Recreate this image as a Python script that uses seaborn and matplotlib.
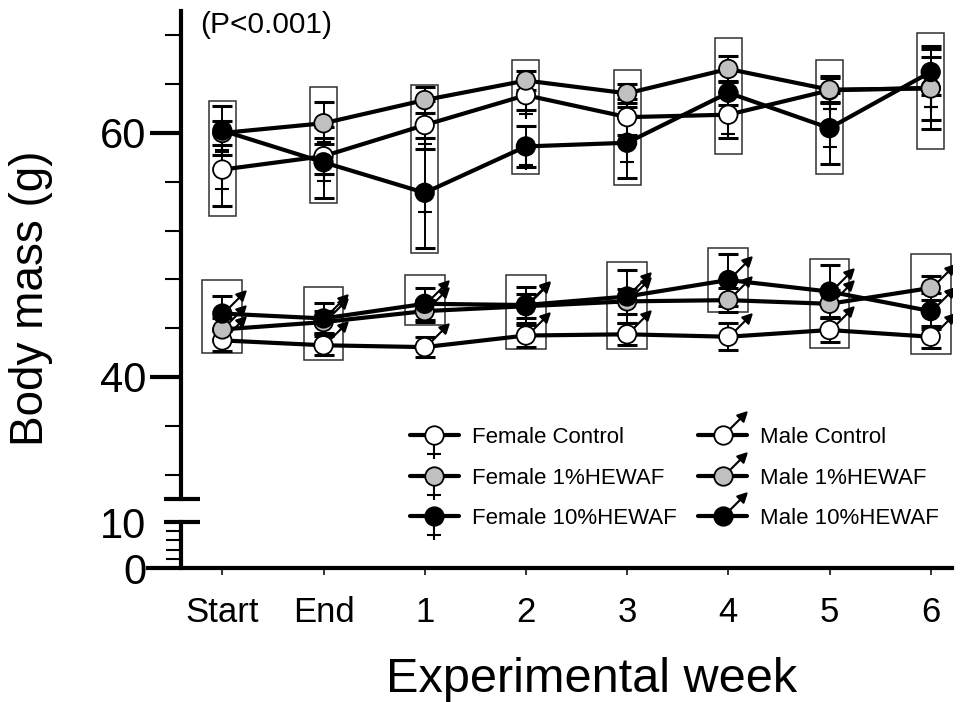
import numpy as np
import pandas as pd
import matplotlib
matplotlib.use("Agg")
import matplotlib.pyplot as plt
import seaborn as sns
from matplotlib.path import Path
from matplotlib.patches import Rectangle
from matplotlib.lines import Line2D
from matplotlib.legend_handler import HandlerTuple

# ---------------- data ----------------
weeks = ["Start", "End", "1", "2", "3", "4", "5", "6"]

female_groups = ["Female Control", "Female 1%HEWAF", "Female 10%HEWAF"]
male_groups = ["Male Control", "Male 1%HEWAF", "Male 10%HEWAF"]
treat_fill = ["white", "#c0c0c0", "black"]

female_control = [57.0, 58.1, 60.65, 63.1, 61.3, 61.5, 63.5, 63.7]
female_1pct = [60.0, 60.8, 62.7, 64.3, 63.25, 65.25, 63.55, 63.65]
female_10pct = [60.2, 57.6, 55.1, 58.9, 59.2, 63.3, 60.4, 65.0]
female_control_se = [3.0, 1.5, 2.0, 1.2, 1.5, 1.9, 1.0, 3.4]
female_1pct_se = [1.0, 1.7, 1.1, 0.8, 0.8, 1.1, 1.1, 2.6]
female_10pct_se = [2.0, 2.9, 4.5, 1.7, 2.9, 1.0, 2.9, 1.9]

male_control = [43.0, 42.6, 42.45, 43.4, 43.5, 43.3, 43.85, 43.3]
male_1pct = [43.9, 44.5, 45.4, 45.8, 46.2, 46.3, 46.0, 47.3]
male_10pct = [45.2, 44.8, 46.0, 45.9, 46.6, 47.95, 47.0, 45.4]
male_control_se = [0.9, 0.8, 0.8, 0.9, 0.9, 1.1, 1.0, 0.9]
male_1pct_se = [0.9, 0.9, 0.9, 1.0, 1.0, 1.0, 1.1, 1.0]
male_10pct_se = [1.4, 1.3, 1.3, 1.5, 2.2, 2.1, 2.2, 1.5]

# ranges outlined at each week
female_box_low = [53.2, 54.3, 50.2, 56.6, 55.7, 58.3, 56.6, 58.7]
female_box_high = [62.65, 63.75, 63.9, 66.0, 65.2, 67.8, 66.0, 68.2]
male_box_low = [42.0, 41.4, 44.3, 42.3, 42.3, 45.3, 42.4, 41.9]
male_box_high = [47.95, 47.4, 48.4, 48.4, 49.45, 50.55, 49.7, 50.1]


def long_table(groups, means, errs):
    frames = []
    for g, m, e in zip(groups, means, errs):
        frames.append(pd.DataFrame({"group": g, "pos": np.arange(len(weeks)),
                                    "week": weeks, "mass": m, "se": e}))
    return pd.concat(frames, ignore_index=True)


females = long_table(female_groups, [female_control, female_1pct, female_10pct],
                     [female_control_se, female_1pct_se, female_10pct_se])
males = long_table(male_groups, [male_control, male_1pct, male_10pct],
                   [male_control_se, male_1pct_se, male_10pct_se])

# ---------------- sex symbols as marker paths ----------------
def venus_path():
    verts = [(0, -1.0), (0, -2.6), (-0.75, -2.1), (0.75, -2.1)]
    codes = [Path.MOVETO, Path.LINETO, Path.MOVETO, Path.LINETO]
    return Path(verts, codes)


def mars_path():
    tip = np.array([2.5, 2.5])
    d = np.array([1, 1]) / np.sqrt(2)
    p = np.array([-1, 1]) / np.sqrt(2)
    base = tip - 0.95 * d
    c1, c2 = base + 0.48 * p, base - 0.48 * p
    verts = [(0.7, 0.7), tuple(base), tuple(tip), tuple(c1), tuple(c2), tuple(tip)]
    codes = [Path.MOVETO, Path.LINETO, Path.MOVETO, Path.LINETO, Path.LINETO,
             Path.CLOSEPOLY]
    return Path(verts, codes)


CIRCLE_MS = 13.3
VENUS = venus_path()
MARS = mars_path()
VENUS_MS = 2 * np.abs(VENUS.vertices).max() * CIRCLE_MS / 2
MARS_MS = 2 * np.abs(MARS.vertices).max() * CIRCLE_MS / 2

# ---------------- figure ----------------
sns.set_style("ticks")
plt.rcParams["font.family"] = ["Liberation Sans", "DejaVu Sans"]
for key in ("text.color", "axes.labelcolor", "xtick.color", "ytick.color",
            "axes.edgecolor"):
    plt.rcParams[key] = "black"

W, H = 964, 702
fig = plt.figure(figsize=(W / 100, H / 100), dpi=100)
x0_px, spacing_px = 222.3, 101.2
left_px, right_px = 148, 952
XL = ((left_px - x0_px) / spacing_px, (right_px - x0_px) / spacing_px)
SPINE_X = (181 - x0_px) / spacing_px

ax_top = fig.add_axes([left_px / W, 1 - 499 / H, (right_px - left_px) / W, 488 / H])
ax_bot = fig.add_axes([left_px / W, 1 - 568 / H, (right_px - left_px) / W, 46 / H])

fill_f = dict(zip(female_groups, treat_fill))
fill_m = dict(zip(male_groups, treat_fill))


def draw_group(ax, df, groups, fills, box_lo, box_hi, box_w, sign, sign_ms, sign_fc):
    for i in range(len(weeks)):
        ax.add_patch(Rectangle((i - box_w / 2, box_lo[i]), box_w, box_hi[i] - box_lo[i],
                               fill=False, edgecolor="#303030", lw=1.1, zorder=1))
    for g in groups:
        sub = df[df.group == g]
        ax.errorbar(sub.pos, sub.mass, yerr=sub.se, fmt="none", ecolor="black",
                    elinewidth=1.4, capsize=7, capthick=2.2, zorder=2)
    sns.lineplot(data=df, x="pos", y="mass", hue="group", hue_order=groups,
                 palette={g: "black" for g in groups}, errorbar=None,
                 linewidth=3.0, legend=False, ax=ax, zorder=3)
    for g in groups:
        sub = df[df.group == g]
        ax.plot(sub.pos, sub.mass, ls="none", marker=sign, ms=sign_ms,
                mec="black", mfc=sign_fc, mew=1.5, zorder=4)
    sns.scatterplot(data=df, x="pos", y="mass", hue="group", hue_order=groups,
                    palette=fills, edgecolor="black", linewidth=1.3,
                    s=CIRCLE_MS ** 2, legend=False, ax=ax, zorder=5)


draw_group(ax_top, females, female_groups, fill_f, female_box_low, female_box_high,
           0.267, VENUS, VENUS_MS, "none")
draw_group(ax_top, males, male_groups, fill_m, male_box_low, male_box_high,
           0.395, MARS, MARS_MS, "black")

# ---------------- axes styling ----------------
for ax in (ax_top, ax_bot):
    ax.set_xlim(*XL)
    ax.set_facecolor("none")
    ax.spines["left"].set_position(("data", SPINE_X))
    ax.spines["left"].set_linewidth(3.0)
    ax.spines["top"].set_visible(False)
    ax.spines["right"].set_visible(False)
    ax.set_xlabel("")
    ax.set_ylabel("")

ax_top.set_ylim(30, 70)
ax_top.spines["bottom"].set_visible(False)
ax_top.tick_params(axis="x", which="both", bottom=False, labelbottom=False)
ax_top.set_yticks([40, 60])
ax_top.set_yticks([32, 36, 44, 48, 52, 56, 64, 68], minor=True)
ax_top.tick_params(axis="y", which="major", length=22, width=3.0, pad=3, labelsize=30)
ax_top.tick_params(axis="y", which="minor", length=11.5, width=1.5)

ax_bot.set_ylim(0, 10)
ax_bot.spines["bottom"].set_linewidth(3.0)
ax_bot.set_yticks([0, 10])
ax_bot.set_yticks([2, 4, 6, 8], minor=True)
ax_bot.tick_params(axis="y", which="major", length=0, pad=25, labelsize=30)
ax_bot.tick_params(axis="y", which="minor", length=11, width=1.5)
ax_bot.set_xticks(np.arange(len(weeks)))
ax_bot.set_xticklabels(weeks)
ax_bot.tick_params(axis="x", which="major", length=5, width=1.1, pad=15, labelsize=25)

# break caps on the y axis
cap_x = [SPINE_X - 17 / spacing_px, SPINE_X + 19 / spacing_px]
ax_top.plot(cap_x, [30, 30], color="black", lw=3.0, clip_on=False, solid_capstyle="butt")
ax_bot.plot(cap_x, [10, 10], color="black", lw=3.0, clip_on=False, solid_capstyle="butt")

ax_top.set_ylabel("Body mass (g)", fontsize=33, va="center")
ax_top.yaxis.set_label_coords(31 / W, 1 - 298 / H, transform=fig.transFigure)
ax_bot.set_xlabel("Experimental week", fontsize=35, va="baseline")
ax_bot.xaxis.set_label_coords(592 / W, 1 - 692 / H, transform=fig.transFigure)

fig.text(200 / W, 1 - 11 / H, "(P<0.001)", fontsize=21.5, ha="left", va="top")

# ---------------- legend ----------------
handles, labels = [], []
for groups, sign, sign_ms, sign_fc in ((female_groups, VENUS, VENUS_MS, "none"),
                                       (male_groups, MARS, MARS_MS, "black")):
    for g, fc in zip(groups, treat_fill):
        line = Line2D([], [], color="black", lw=3.0, marker=sign, ms=sign_ms,
                      mec="black", mfc=sign_fc, mew=1.5)
        dot = Line2D([], [], ls="none", marker="o", ms=CIRCLE_MS, mfc=fc,
                     mec="black", mew=1.3)
        handles.append((line, dot))
        labels.append(g)

fig.legend(handles, labels, ncol=2, loc="upper left",
           bbox_to_anchor=(410 / W, 1 - 427 / H), frameon=False, fontsize=16,
           handlelength=2.2, handletextpad=0.6, columnspacing=0.95,
           labelspacing=0.88, borderpad=0, borderaxespad=0,
           handler_map={tuple: HandlerTuple(ndivide=1, pad=0)})

fig.savefig("out.png", dpi=100)
